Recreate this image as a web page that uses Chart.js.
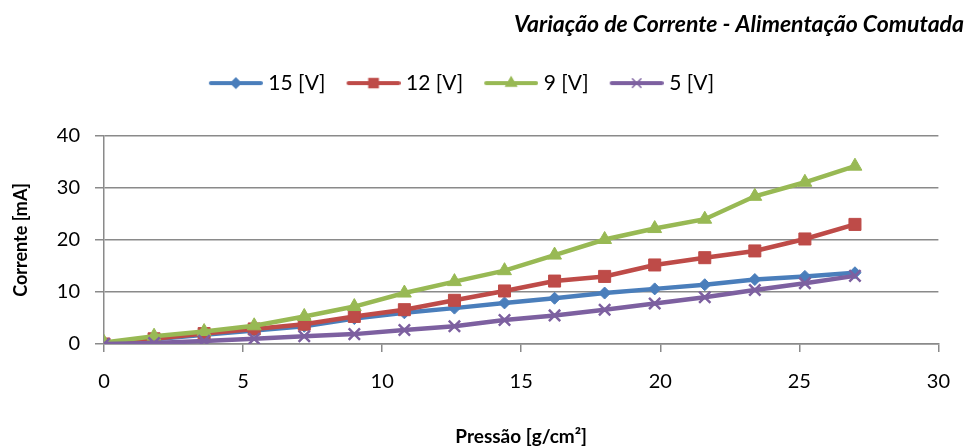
<!DOCTYPE html>
<html>
<head>
<meta charset="utf-8">
<script src="https://cdn.jsdelivr.net/npm/chart.js@4.4.0/dist/chart.umd.min.js"></script>
<style>
  html, body { margin: 0; padding: 0; background: #ffffff; }
  #wrap { width: 968px; height: 446px; }
</style>
</head>
<body>
<div id="wrap"><canvas id="corrente"></canvas></div>
<script>
var pressao = [0, 1.8, 3.6, 5.4, 7.2, 9, 10.8, 12.6, 14.4, 16.2, 18, 19.8, 21.6, 23.4, 25.2, 27];
var serie15 = [0, 0.9, 1.8, 2.6, 3.4, 4.9, 6.0, 6.9, 7.9, 8.8, 9.8, 10.6, 11.4, 12.4, 13.0, 13.7];
var serie12 = [0, 1.0, 2.0, 2.9, 3.8, 5.3, 6.6, 8.4, 10.2, 12.1, 13.0, 15.2, 16.6, 17.9, 20.2, 23.0];
var serie9 = [0.3, 1.5, 2.4, 3.5, 5.3, 7.2, 9.8, 12.0, 14.1, 17.1, 20.1, 22.2, 24.0, 28.4, 31.1, 34.2];
var serie5 = [0, 0.2, 0.6, 1.0, 1.5, 1.9, 2.7, 3.4, 4.6, 5.5, 6.6, 7.8, 9.0, 10.4, 11.7, 13.1];
var legendas = ['15 [V]', '12 [V]', '9 [V]', '5 [V]'];
var yTicks = [0, 10, 20, 30, 40];
var xTicks = [0, 5, 10, 15, 20, 25, 30];

var FONT = 'Lato, "Open Sans", sans-serif';
var GRID = '#8a8a8a';

function pontos(ys) {
    return pressao.map(function (x, i) { return { x: x, y: ys[i] }; });
}

// legend symbol: short line with the series marker in the middle
function iconeLegenda(cor, estilo, raio) {
    var c = document.createElement('canvas');
    c.width = 68;
    c.height = 16;
    var ctx = c.getContext('2d');
    ctx.strokeStyle = cor;
    ctx.fillStyle = cor;
    ctx.lineWidth = 4;
    ctx.lineCap = 'round';
    ctx.beginPath();
    ctx.moveTo(16, 8);
    ctx.lineTo(66, 8);
    ctx.stroke();
    ctx.lineWidth = 1.5;
    Chart.helpers.drawPoint(ctx, { pointStyle: estilo, radius: raio, rotation: 0, borderWidth: 1.5 }, 41, 8);
    return c;
}

function serie(label, ys, cor, estilo, raio, ordem, raioLeg) {
    return {
        label: label,
        data: pontos(ys),
        borderColor: cor,
        backgroundColor: cor,
        borderWidth: 4.5,
        pointStyle: estilo,
        pointRadius: raio,
        pointHoverRadius: raio,
        pointBorderWidth: estilo === 'crossRot' ? 2.5 : 1,
        pointBorderColor: cor,
        pointBackgroundColor: cor,
        showLine: true,
        tension: 0,
        order: ordem,
        legendIcon: iconeLegenda(cor, estilo, raioLeg)
    };
}

var datasets = [
    serie(legendas[0], serie15, '#4a7ebb', 'rectRot', 6, 4, 5),
    serie(legendas[1], serie12, '#be4b48', 'rect', 8.5, 3, 6.5),
    serie(legendas[2], serie9, '#98b954', 'triangle', 8, 2, 6),
    serie(legendas[3], serie5, '#7d60a0', 'crossRot', 8, 1, 6)
];

// nudge the legend row a little to the left
var legendaDesloc = {
    id: 'legendaDesloc',
    afterLayout: function (chart) {
        chart.legend.left -= 25;
        chart.legend.right -= 25;
    }
};

var ctx = document.getElementById('corrente').getContext('2d');
var chart = new Chart(ctx, {
    type: 'scatter',
    data: { datasets: datasets },
    plugins: [legendaDesloc],
    options: {
        responsive: true,
        maintainAspectRatio: false,
        animation: false,
        layout: { padding: { top: 0, right: 4, bottom: 0, left: 0 } },
        plugins: {
            tooltip: { enabled: false },
            title: {
                display: true,
                text: 'Variação de Corrente - Alimentação Comutada',
                align: 'end',
                color: '#000000',
                font: { family: FONT, size: 23, weight: 'bold', style: 'italic' },
                padding: { top: 11, bottom: 22 }
            },
            legend: {
                display: true,
                position: 'top',
                labels: {
                    color: '#000000',
                    font: { family: FONT, size: 21 },
                    usePointStyle: true,
                    pointStyleWidth: 58,
                    padding: 12,
                    sort: function (a, b) { return a.datasetIndex - b.datasetIndex; },
                    generateLabels: function (chart) {
                        return chart.data.datasets.map(function (ds, i) {
                            return {
                                text: ds.label,
                                pointStyle: ds.legendIcon,
                                fillStyle: ds.borderColor,
                                strokeStyle: ds.borderColor,
                                lineWidth: 0,
                                hidden: !chart.isDatasetVisible(i),
                                datasetIndex: i,
                                fontColor: '#000000'
                            };
                        });
                    }
                }
            }
        },
        scales: {
            x: {
                type: 'linear',
                position: 'bottom',
                min: 0,
                max: 30,
                afterBuildTicks: function (s) { s.ticks = xTicks.map(function (v) { return { value: v }; }); },
                afterFit: function (s) { s.height = 102; },
                grid: { drawOnChartArea: false, drawTicks: true, tickLength: 8, color: GRID, lineWidth: 1.5 },
                border: { display: true, color: GRID, width: 1.5 },
                ticks: { color: '#000000', font: { family: FONT, size: 20 }, padding: 18, maxRotation: 0 },
                title: {
                    display: true,
                    text: 'Pressão [g/cm²]',
                    color: '#000000',
                    font: { family: FONT, size: 19, weight: 'bold' },
                    padding: { top: 0, bottom: -2 }
                }
            },
            x2: {
                type: 'linear',
                position: 'top',
                display: true,
                grid: { display: false, drawTicks: false },
                border: { display: false },
                ticks: { display: false },
                afterFit: function (s) { s.height = 32.4; }
            },
            y: {
                type: 'linear',
                position: 'left',
                min: 0,
                max: 40,
                afterBuildTicks: function (s) { s.ticks = yTicks.map(function (v) { return { value: v }; }); },
                afterFit: function (s) { s.width = 104; },
                grid: { drawOnChartArea: true, drawTicks: true, tickLength: 9, color: GRID, lineWidth: 1.5 },
                border: { display: true, color: GRID, width: 1.5 },
                ticks: { color: '#000000', font: { family: FONT, size: 20 }, padding: 15 },
                title: {
                    display: true,
                    text: 'Corrente [mA]',
                    color: '#000000',
                    font: { family: FONT, size: 18, weight: 'bold' },
                    padding: { top: 10, bottom: 0 }
                }
            },
            y2: {
                type: 'linear',
                position: 'right',
                display: true,
                grid: { display: false, drawTicks: false },
                border: { display: false },
                ticks: { display: false },
                afterFit: function (s) { s.width = 24; }
            }
        }
    }
});
</script>
</body>
</html>
